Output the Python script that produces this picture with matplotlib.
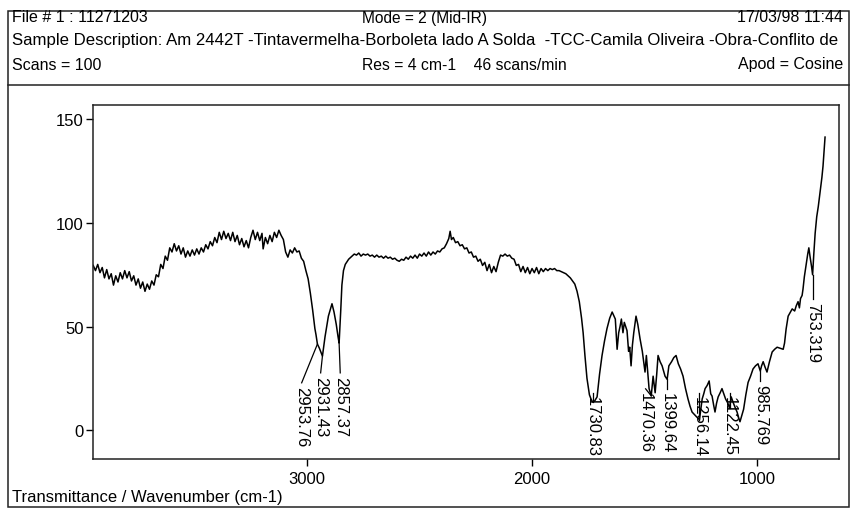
import matplotlib
matplotlib.use("Agg")
import matplotlib.pyplot as plt
from matplotlib.patches import Rectangle
from matplotlib.lines import Line2D
import numpy as np

plt.rcParams['font.family'] = ['Liberation Sans', 'DejaVu Sans']

# ---------------- data ----------------
wavenumber = [
    3950, 3940, 3930, 3920, 3910, 3900, 3890, 3880, 3870, 3860, 3850, 3840, 3830, 3820, 3810,
    3800, 3790, 3780, 3770, 3760, 3750, 3740, 3730, 3720, 3710, 3700, 3690, 3680, 3670, 3660,
    3650, 3640, 3630, 3620, 3610, 3600, 3590, 3580, 3570, 3560, 3550, 3540, 3530, 3520, 3510,
    3500, 3490, 3480, 3470, 3460, 3450, 3440, 3430, 3420, 3410, 3400, 3390, 3380, 3370, 3360,
    3350, 3340, 3330, 3320, 3310, 3300, 3290, 3280, 3270, 3260, 3250, 3240, 3230, 3220, 3210,
    3200, 3195, 3185, 3175, 3165, 3155, 3145, 3135, 3125, 3115, 3105, 3095, 3085, 3075, 3065,
    3055, 3045, 3035, 3025, 3015, 3005, 2995, 2985, 2975, 2965, 2960, 2953.76, 2945, 2931.43,
    2920, 2905, 2889, 2880, 2870, 2862, 2857.37, 2850, 2845, 2838, 2830, 2815,
    2800, 2790, 2780, 2770, 2760, 2750, 2740, 2730, 2720, 2710, 2700, 2690, 2680, 2670, 2660,
    2650, 2640, 2630, 2620, 2610, 2600, 2590, 2580, 2570, 2560, 2550, 2540, 2530, 2520, 2510,
    2500, 2490, 2480, 2470, 2460, 2450, 2440, 2430, 2420, 2410, 2400, 2390, 2380, 2370, 2364,
    2358, 2350, 2340, 2330, 2320, 2310, 2300, 2290, 2280, 2270, 2260, 2250, 2240, 2230, 2220,
    2210, 2200, 2190, 2180, 2170, 2160, 2150, 2140, 2130, 2120, 2110, 2100, 2090, 2080, 2070,
    2060, 2050, 2040, 2030, 2020, 2010, 2000, 1990, 1980, 1970, 1960, 1950, 1940, 1930, 1920,
    1910, 1900, 1890, 1880, 1870, 1860, 1850, 1840, 1830, 1820, 1810, 1800, 1790, 1780, 1773,
    1765, 1756, 1745, 1738, 1730.83, 1722, 1711, 1700, 1689, 1678, 1667, 1655, 1644, 1636, 1630,
    1622, 1615, 1609, 1603, 1596, 1590, 1584, 1578, 1571, 1566, 1560, 1554, 1548, 1538, 1530,
    1520, 1510, 1498, 1492, 1480, 1470.36, 1462, 1453, 1446, 1440, 1431, 1422, 1409, 1399.64, 1392,
    1380, 1370, 1360, 1350, 1340, 1329, 1318, 1307, 1298, 1289, 1270, 1256.14, 1250, 1244, 1237,
    1231, 1222, 1213, 1206, 1200, 1193, 1187, 1180, 1173, 1164, 1156, 1148, 1140, 1130, 1122.45,
    1115, 1107, 1098, 1089, 1082, 1076, 1068, 1060, 1050, 1040, 1029, 1018, 1007, 996, 985.769,
    980, 973, 965, 956, 945, 933, 922, 911, 898, 884, 878, 871, 862, 852, 844,
    833, 826, 818, 812, 807, 800, 796, 790, 782, 775, 770, 765, 758, 753.319, 748,
    742, 735, 728, 720, 712, 707, 702, 698,
]
transmittance = [
    79.5, 77, 80, 76, 78.5, 73.5, 77.5, 73, 75.5, 70, 74.5, 71.5, 76, 73, 77,
    73.5, 76.5, 72, 74.5, 70, 73, 68.5, 71.5, 67, 70.5, 68, 72, 70, 75, 74,
    80, 78, 84, 82, 88, 86, 90, 86.5, 89, 85, 88, 83.5, 86.5, 84, 87,
    84.5, 87.5, 85, 88, 86, 89.5, 87.5, 91, 89, 93, 90.5, 95.5, 92, 96, 92.5,
    95, 91.5, 95.5, 91, 94, 89.5, 92.5, 88.5, 91.5, 88, 93, 96.5, 92, 95.5, 91.5,
    95, 87.5, 93, 90, 94, 91, 95.5, 93, 96.5, 94, 92, 86, 83.5, 87, 85.5,
    88, 86, 86.5, 83, 81.5, 77, 73, 66, 58, 49, 46, 41.5, 39.5, 35.7,
    45, 55, 61, 57, 51, 45, 42, 58, 70, 77, 80, 82.5,
    84, 85, 84.5, 85.5, 84, 85, 84.5, 85, 84, 84.5, 83.5, 84.5, 83.5, 84, 83,
    84, 83, 83.5, 82.5, 83, 82, 81.5, 82.5, 82, 83.5, 82.5, 84, 83, 84.5, 83,
    85, 84, 85.5, 84, 86, 84.5, 86, 85, 86.5, 86, 87.5, 88, 90, 92.5, 96,
    92, 93, 90.5, 91, 89, 89.5, 87.5, 88, 85.5, 86, 83.5, 84, 81.5, 82.5, 79.5,
    81, 77, 80, 76, 79, 76.5, 81, 84.5, 84, 85, 84, 84.5, 83, 82.5, 79.5,
    80, 76.5, 79, 76, 78.5, 75.5, 78, 76, 78.5, 75.5, 78, 76.5, 78, 77, 78,
    77.5, 78, 77, 77, 76.5, 76, 75.5, 74.5, 73.5, 72, 70.5, 67, 62, 54, 47,
    36, 25, 17, 15, 13.5, 14, 16, 27, 36, 43, 49, 54, 57, 55, 53.6,
    39, 47, 50, 53.6, 47, 52, 50, 48, 38, 40, 31, 41, 47, 55, 51,
    44, 38, 28, 36, 20, 16.5, 26, 18, 27, 36, 33, 31, 26, 24.5, 31,
    33, 35, 36, 32, 29.5, 26, 20, 15, 11.5, 8.7, 6.5, 5, 10, 15, 17.5,
    20, 21.5, 23.7, 17.5, 16.4, 12, 8.7, 13, 16, 18, 20, 17.5, 15, 13, 10.5,
    16, 13.5, 11, 8.7, 6, 4, 7, 10, 17, 23, 26, 29.5, 31, 32, 28.5,
    31, 33, 30.5, 28, 33, 37.7, 39, 40, 39.5, 39, 42, 48.8, 55, 57, 58.5,
    57.5, 60, 62, 59, 63.5, 65, 68, 74, 80, 85, 88, 84, 79, 75, 85,
    95, 103, 108, 115, 122, 127.5, 135, 141.5,
]

peak_wavenumbers = [2953.76, 2931.43, 2857.37, 1730.83, 1470.36, 1399.64,
                    1256.14, 1122.45, 985.769, 753.319]
peak_labels = ["2953.76", "2931.43", "2857.37", "1730.83", "1470.36", "1399.64",
               "1256.14", "1122.45", "985.769", "753.319"]

x_ticks = [3000, 2000, 1000]
y_ticks = [0, 50, 100, 150]

header_left = ["File # 1 : 11271203",
               "Sample Description: Am 2442T -Tintavermelha-Borboleta lado A Solda  -TCC-Camila Oliveira -Obra-Conflito de",
               "Scans = 100"]
header_mid = ["Mode = 2 (Mid-IR)", None, "Res = 4 cm-1    46 scans/min"]
header_right = ["17/03/98 11:44", None, "Apod = Cosine"]
footer_text = "Transmittance / Wavenumber (cm-1)"

# label placement (label top, in data units, and horizontal offset in data units)
label_tops = [21.3, 26.1, 26.1, 16.4, 18.4, 18.4, 16.4, 16.4, 22.2, 61.8]
label_xshift = [70, 8, -5, 0, 25, 0, 0, 0, 0, 0]

# ---------------- figure ----------------
W, H = 858, 510
fig = plt.figure(figsize=(W / 100, H / 100), dpi=100)
fig.patch.set_facecolor("white")


def fx(px):
    return px / W


def fy(py):
    return 1 - py / H


# outer frame + header box
fig.add_artist(Rectangle((fx(8), fy(508)), fx(849) - fx(8), fy(12) - fy(508),
                         fill=False, ec="#222222", lw=1.1, transform=fig.transFigure))
fig.add_artist(Line2D([fx(8), fx(849)], [fy(86), fy(86)], color="#222222", lw=1.1,
                      transform=fig.transFigure))

line_sizes = [11.5, 12.1, 11.5]
mid_sizes = [11.2, None, 11.3]
for i, yy in enumerate([18, 41, 65]):
    fig.text(fx(12), fy(yy), header_left[i], ha="left", va="center", fontsize=line_sizes[i])
    if header_mid[i]:
        fig.text(fx(362), fy(yy), header_mid[i], ha="left", va="center", fontsize=mid_sizes[i])
    if header_right[i]:
        fig.text(fx(843), fy(yy), header_right[i], ha="right", va="center", fontsize=11.5)

fig.text(fx(12), fy(498), footer_text, ha="left", va="center", fontsize=12)

ax = fig.add_axes([fx(93), fy(460), fx(839) - fx(93), fy(106) - fy(460)])
ax.plot(wavenumber, transmittance, color="black", lw=1.1)
ax.set_xlim(3951, 636)
ax.set_ylim(-14, 157)
ax.set_xticks(x_ticks)
ax.set_yticks(y_ticks)
ax.tick_params(axis="both", direction="out", length=5, width=1, labelsize=12, color="black")
ax.tick_params(axis="y", pad=1.5)
ax.tick_params(axis="x", pad=3.5)
for s in ax.spines.values():
    s.set_linewidth(1.1)
    s.set_color("#222222")

wn_arr = np.array(wavenumber)[::-1]
tr_arr = np.array(transmittance)[::-1]
for pw, lab, top, dx in zip(peak_wavenumbers, peak_labels, label_tops, label_xshift):
    pv = np.interp(pw, wn_arr, tr_arr)
    lx = pw + dx
    ax.plot([pw, lx], [pv, top + 1.5], color="black", lw=0.9)
    ax.text(lx, top, lab, rotation=270, ha="center", va="top", fontsize=12)

fig.savefig("out.png", dpi=100, facecolor="white")
